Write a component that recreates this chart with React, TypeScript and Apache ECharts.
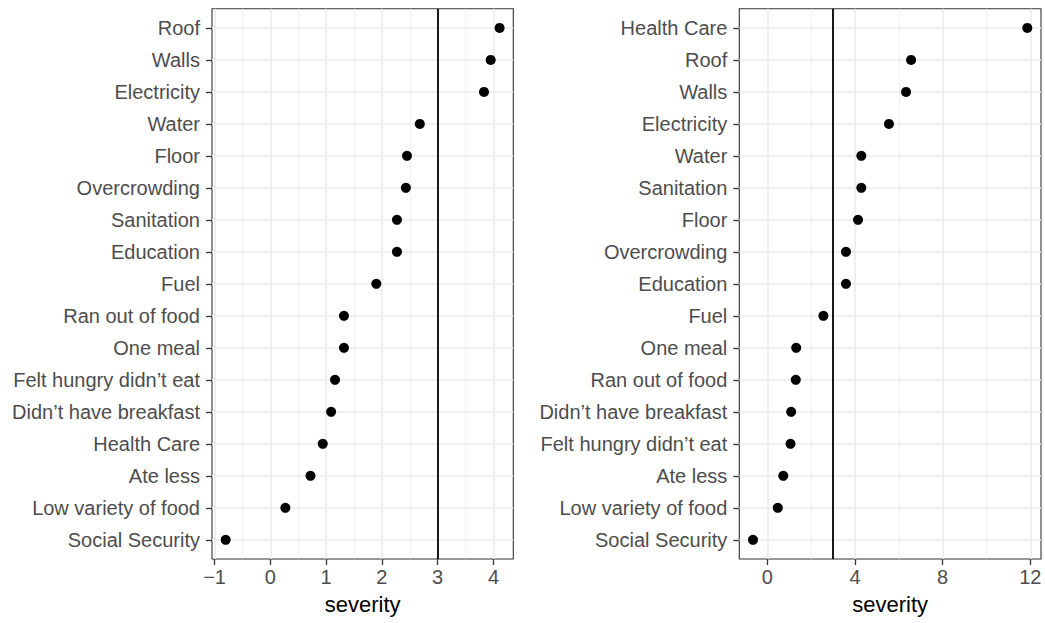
import React, { useEffect, useRef } from "react";
import * as echarts from "echarts";

const leftCategories = [
  "Roof", "Walls", "Electricity", "Water", "Floor", "Overcrowding", "Sanitation",
  "Education", "Fuel", "Ran out of food", "One meal", "Felt hungry didn’t eat",
  "Didn’t have breakfast", "Health Care", "Ate less", "Low variety of food", "Social Security",
];
const leftValues = [4.11, 3.95, 3.83, 2.68, 2.45, 2.43, 2.27, 2.27, 1.9, 1.32, 1.32, 1.16, 1.09, 0.94, 0.72, 0.27, -0.8];

const rightCategories = [
  "Health Care", "Roof", "Walls", "Electricity", "Water", "Sanitation", "Floor",
  "Overcrowding", "Education", "Fuel", "One meal", "Ran out of food",
  "Didn’t have breakfast", "Felt hungry didn’t eat", "Ate less", "Low variety of food", "Social Security",
];
const rightValues = [11.86, 6.56, 6.33, 5.55, 4.29, 4.29, 4.14, 3.59, 3.59, 2.56, 1.32, 1.3, 1.09, 1.06, 0.73, 0.48, -0.65];

const leftTicks = [-1, 0, 1, 2, 3, 4];
const leftMinor = [-0.5, 0.5, 1.5, 2.5, 3.5];
const rightTicks = [0, 4, 8, 12];
const rightMinor = [2, 6, 10];
const threshold = 3;
const axisTitle = "severity";

const FONT = "'Liberation Sans', Arial, Helvetica, sans-serif";

function range(vals: number[]) {
  const mn = Math.min(...vals, threshold);
  const mx = Math.max(...vals, threshold);
  const pad = (mx - mn) * 0.05;
  return [mn - pad, mx + pad];
}

export default function App() {
  const ref = useRef<HTMLDivElement>(null);
  useEffect(() => {
    if (!ref.current) return;
    const chart = echarts.init(ref.current, null, { renderer: "svg" });
    const panels = [
      { cats: leftCategories, vals: leftValues, ticks: leftTicks, minor: leftMinor },
      { cats: rightCategories, vals: rightValues, ticks: rightTicks, minor: rightMinor },
    ];
    const grids = [
      { left: 212, right: 531.7, top: 8.7, bottom: 64 },
      { left: 739.3, right: 4, top: 8.7, bottom: 64 },
    ].map((g) => ({
      ...g,
      show: true,
      borderColor: "#333333",
      borderWidth: 1.1,
      backgroundColor: "#ffffff",
      outerBoundsMode: "none",
    }));
    const xAxes: any[] = [];
    const yAxes: any[] = [];
    const series: any[] = [];
    panels.forEach((p, i) => {
      const n = p.cats.length;
      const [mn, mx] = range(p.vals);
      const yIdx = p.cats.map((_, k) => k);
      xAxes.push({
        type: "value",
        gridIndex: i,
        position: "bottom",
        min: mn,
        max: mx,
        axisLine: { show: false, onZero: false },
        splitLine: { show: false },
        axisTick: { show: true, length: 6, customValues: p.ticks, lineStyle: { color: "#333333", width: 1.3 } },
        axisLabel: {
          customValues: p.ticks,
          color: "#4D4D4D",
          fontSize: 20,
          fontFamily: FONT,
          margin: 8,
          formatter: (v: number) => String(v).replace("-", "\u2212"),
        },
        name: axisTitle,
        nameLocation: "middle",
        nameGap: 34,
        nameTextStyle: { color: "#000000", fontSize: 22, fontFamily: FONT },
      });
      yAxes.push({
        type: "value",
        gridIndex: i,
        position: "left",
        min: -0.6,
        max: n - 1 + 0.6,
        axisLine: { show: false, onZero: false },
        splitLine: { show: false },
        axisTick: { show: true, length: 6, customValues: yIdx, lineStyle: { color: "#333333", width: 1.3 } },
        axisLabel: {
          customValues: yIdx,
          color: "#4D4D4D",
          fontSize: 20,
          fontFamily: FONT,
          margin: 12,
          formatter: (v: number) => p.cats[n - 1 - Math.round(v)] ?? "",
        },
      });
      series.push({
        type: "scatter",
        xAxisIndex: i,
        yAxisIndex: i,
        data: [],
        silent: true,
        z: 1,
        markLine: {
          silent: true,
          z: 1,
          symbol: "none",
          label: { show: false },
          animation: false,
          data: [
            ...p.minor.map((v) => ({ xAxis: v, lineStyle: { color: "#EBEBEB", width: 0.8, type: "solid" } })),
            ...p.ticks.map((v) => ({ xAxis: v, lineStyle: { color: "#EBEBEB", width: 1.6, type: "solid" } })),
            ...yIdx.map((v) => ({ yAxis: v, lineStyle: { color: "#EBEBEB", width: 1.6, type: "solid" } })),
          ],
        },
      });
      series.push({
        type: "scatter",
        xAxisIndex: i,
        yAxisIndex: i,
        data: [],
        silent: true,
        z: 2,
        markLine: {
          silent: true,
          z: 2,
          symbol: "none",
          label: { show: false },
          animation: false,
          data: [{ xAxis: threshold, lineStyle: { color: "#000000", width: 1.8, type: "solid" } }],
        },
      });
      series.push({
        type: "scatter",
        xAxisIndex: i,
        yAxisIndex: i,
        z: 10,
        symbol: "circle",
        symbolSize: 10,
        itemStyle: { color: "#000000", opacity: 1 },
        data: p.vals.map((v, k) => [v, n - 1 - k]),
      });
    });
    chart.setOption({
      animation: false,
      backgroundColor: "#ffffff",
      textStyle: { fontFamily: FONT },
      grid: grids,
      xAxis: xAxes,
      yAxis: yAxes,
      series,
    });
    return () => chart.dispose();
  }, []);
  return <div ref={ref} style={{ width: 1045, height: 623, position: "absolute", left: 0, top: 0 }} />;
}
